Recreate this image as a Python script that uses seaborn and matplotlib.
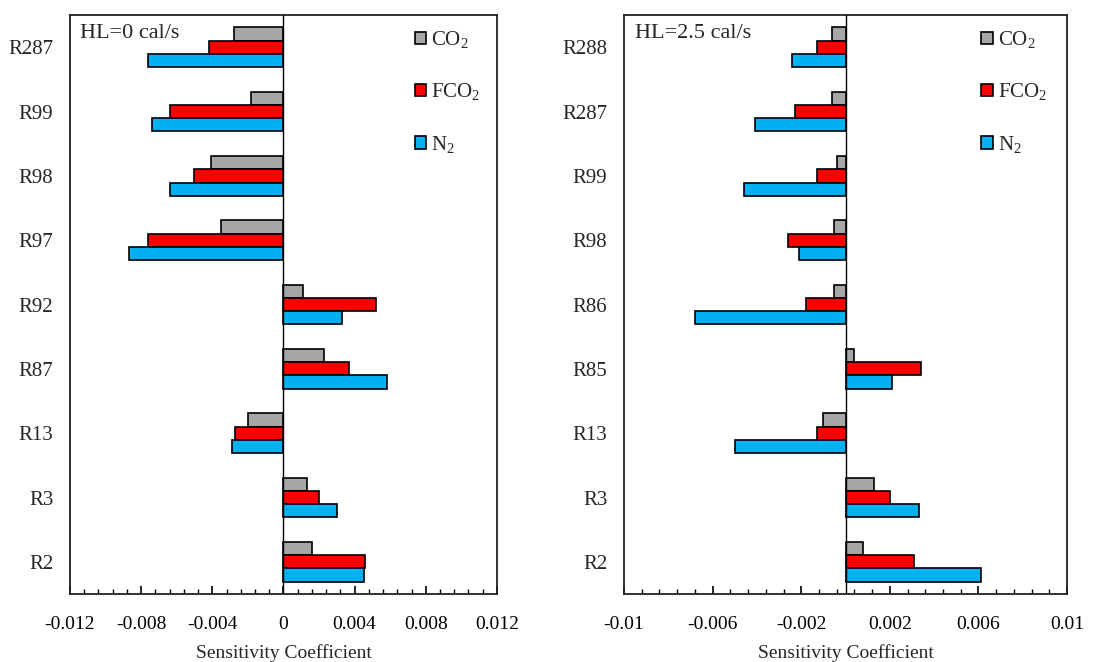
import matplotlib
matplotlib.use("Agg")
import matplotlib.pyplot as plt
from matplotlib.patches import Patch
from matplotlib.ticker import FixedLocator, FuncFormatter
import numpy as np
import pandas as pd
import seaborn as sns

# sensitivity coefficients
species = ["CO2", "FCO2", "N2"]
species_labels = [r"$\mathregular{CO_2}$", r"$\mathregular{FCO_2}$", r"$\mathregular{N_2}$"]

reac_hl0 = ["R287", "R99", "R98", "R97", "R92", "R87", "R13", "R3", "R2"]
co2_hl0 = [-0.0028, -0.0018, -0.0041, -0.0035, 0.0011, 0.0023, -0.0020, 0.0013, 0.0016]
fco2_hl0 = [-0.0042, -0.0064, -0.0050, -0.0076, 0.0052, 0.0037, -0.0027, 0.0020, 0.0046]
n2_hl0 = [-0.0076, -0.0074, -0.0064, -0.0087, 0.0033, 0.0058, -0.0029, 0.0030, 0.0045]

reac_hl25 = ["R288", "R287", "R99", "R98", "R86", "R85", "R13", "R3", "R2"]
co2_hl25 = [-0.0006, -0.0006, -0.0004, -0.0005, -0.0005, 0.0004, -0.0010, 0.0013, 0.0008]
fco2_hl25 = [-0.0013, -0.0023, -0.0013, -0.0026, -0.0018, 0.0034, -0.0013, 0.0020, 0.0031]
n2_hl25 = [-0.0024, -0.0041, -0.0046, -0.0021, -0.0068, 0.0021, -0.0050, 0.0033, 0.0061]

colors = {"CO2": "#a6a6a6", "FCO2": "#ff0000", "N2": "#00b0f0"}


def long_df(reac, co2, fco2, n2):
    frames = []
    for sp, vals in zip(species, [co2, fco2, n2]):
        frames.append(pd.DataFrame({"reaction": reac, "species": sp, "value": vals}))
    return pd.concat(frames, ignore_index=True)


sns.set_theme(style="white")
plt.rcParams["font.family"] = ["Liberation Serif", "DejaVu Serif"]
plt.rcParams["mathtext.fontset"] = "custom"
plt.rcParams["mathtext.rm"] = "Liberation Serif"

fig = plt.figure(figsize=(11.07, 6.62), dpi=100)
ax1 = fig.add_axes([0.0632, 0.1027, 0.3857, 0.8746])
ax2 = fig.add_axes([0.5637, 0.1027, 0.4002, 0.8746])

panels = [
    (ax1, long_df(reac_hl0, co2_hl0, fco2_hl0, n2_hl0), "HL=0 cal/s", 0.012),
    (ax2, long_df(reac_hl25, co2_hl25, fco2_hl25, n2_hl25), "HL=2.5 cal/s", 0.01),
]

for ax, df, title, lim in panels:
    sns.barplot(data=df, x="value", y="reaction", hue="species", hue_order=species,
                palette=colors, saturation=1, orient="h", width=0.62, edgecolor="black",
                linewidth=1.2, errorbar=None, legend=False, ax=ax)
    ax.axvline(0, color="black", lw=1.0, zorder=5)
    ax.set_xlim(-lim, lim)
    ax.set_ylim(8.5, -0.5)
    ax.set_ylabel("")
    ax.set_xlabel("Sensitivity Coefficient", fontsize=14, labelpad=8)
    ax.xaxis.set_major_locator(FixedLocator(np.arange(-lim, lim + 1e-9, 0.004)))
    ax.xaxis.set_minor_locator(FixedLocator(np.arange(-lim, lim + 1e-9, 0.0008)))
    ax.xaxis.set_major_formatter(FuncFormatter(lambda v, p: "{:g}".format(round(v, 4))))
    ax.tick_params(axis="x", which="major", bottom=True, direction="in", length=6,
                   width=1.2, labelsize=14, pad=16, colors="black")
    ax.tick_params(axis="x", which="minor", bottom=True, direction="in", length=3.5,
                   width=1.0, colors="black")
    ax.tick_params(axis="y", left=False, length=0, labelsize=15, pad=12)
    for s in ax.spines.values():
        s.set_color("#222222")
        s.set_linewidth(1.3)
    ax.text(0.024, 0.985, title, transform=ax.transAxes, ha="left", va="top", fontsize=16)
    handles = [Patch(facecolor=colors[sp], edgecolor="black", linewidth=1.2) for sp in species]
    ax.legend(handles, species_labels, loc="upper left", bbox_to_anchor=(0.788, 0.99),
              frameon=False, fontsize=15, handlelength=0.55, handleheight=0.55,
              handletextpad=0.25, labelspacing=1.5, borderaxespad=0)

fig.savefig("out.png", dpi=100)
